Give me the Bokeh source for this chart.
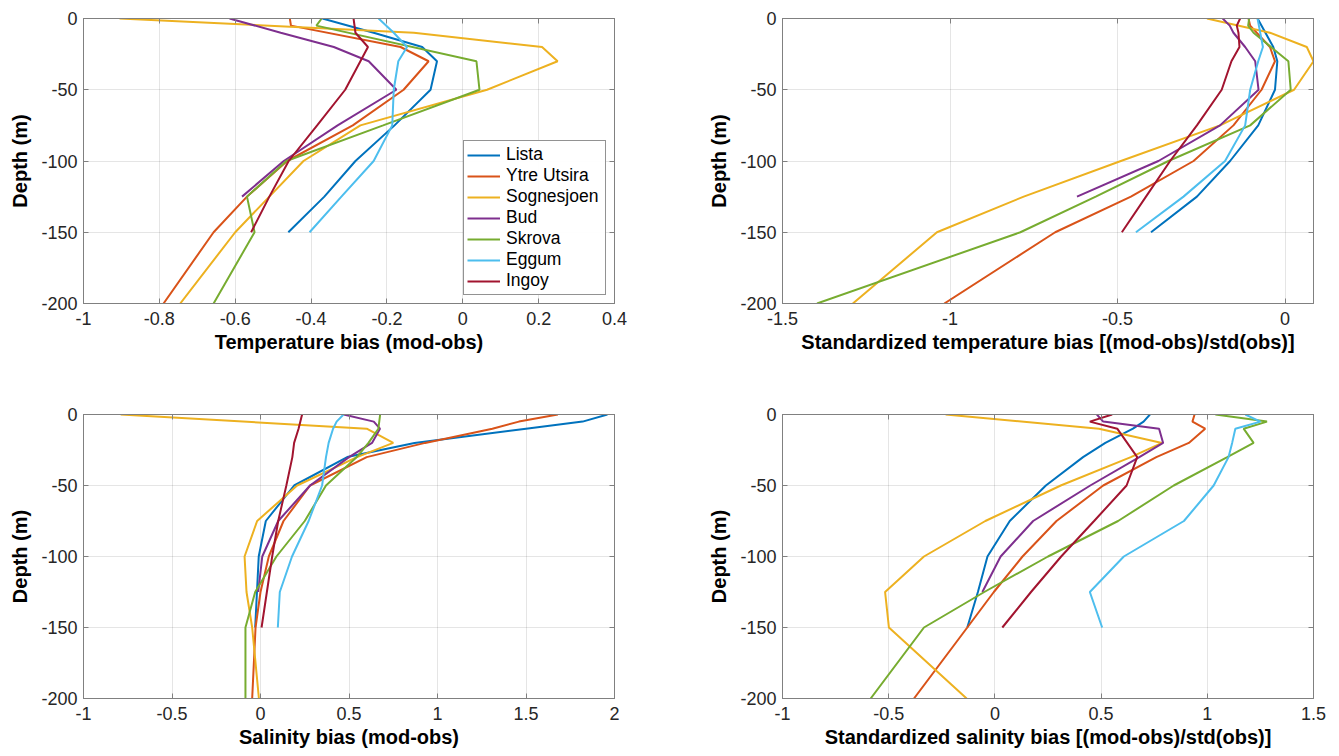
from bokeh.plotting import figure
from bokeh.models import (LinearAxis, FixedTicker, Legend, LegendItem, ColumnDataSource,
                          Range1d, CustomJSTickFormatter)
from bokeh.layouts import column, row
from bokeh.embed import file_html
from bokeh.resources import INLINE

# ---------------- data ----------------
stations = ["Lista", "Ytre Utsira", "Sognesjoen", "Bud", "Skrova", "Eggum", "Ingoy"]
colors = ["#0072BD", "#D95319", "#EDB120", "#7E2F8E", "#77AC30", "#4DBEEE", "#A2142F"]
depth = [0, -5, -10, -20, -30, -50, -75, -100, -125, -150, -200]

# Temperature bias (mod-obs)
lista_t = [-0.37, None, -0.235, -0.107, -0.068, -0.085, -0.18, -0.283, -0.365, -0.46, None]
ytre_t = [-0.456, -0.453, None, -0.164, -0.09, -0.156, -0.29, -0.463, -0.569, -0.657, -0.789]
sogn_t = [-0.905, None, -0.129, 0.209, 0.25, 0.064, -0.27, -0.42, -0.51, -0.60, -0.745]
bud_t = [-0.615, None, -0.48, -0.34, -0.248, -0.175, -0.33, -0.472, -0.582, None, None]
skrova_t = [-0.372, -0.386, None, None, 0.036, 0.044, -0.21, -0.465, -0.569, -0.549, -0.657]
eggum_t = [-0.222, None, -0.182, -0.147, -0.17, -0.182, -0.186, -0.235, -0.32, -0.404, None]
ingoy_t = [-0.288, None, -0.283, -0.25, -0.27, -0.31, -0.384, -0.459, -0.51, -0.558, None]

# Standardized temperature bias
lista_st = [-0.082, None, None, -0.035, -0.023, -0.030, -0.080, -0.164, -0.263, -0.40, None]
ytre_st = [-0.109, -0.104, None, -0.045, -0.03, -0.07, -0.154, -0.273, -0.46, -0.686, -1.017]
sogn_st = [-0.233, None, -0.045, 0.065, 0.085, 0.027, -0.194, -0.49, -0.78, -1.039, -1.29]
bud_st = [-0.186, -0.165, -0.154, -0.119, -0.089, -0.079, -0.194, -0.378, -0.621, None, None]
skrova_st = [-0.107, -0.110, -0.094, None, 0.01, 0.017, -0.104, -0.348, -0.565, -0.79, -1.397]
eggum_st = [-0.082, None, None, -0.066, -0.08, -0.104, -0.119, -0.179, -0.303, -0.445, None]
ingoy_st = [-0.134, -0.144, -0.139, -0.136, -0.16, -0.189, -0.263, -0.343, -0.415, -0.487, None]

# Salinity bias (mod-obs)
lista_s = [1.96, 1.82, 1.50, 0.87, 0.49, 0.19, 0.03, -0.01, -0.02, -0.03, None]
ytre_s = [1.68, 1.46, 1.31, 0.93, 0.60, 0.28, 0.13, 0.047, 0.0, -0.028, -0.047]
sogn_s = [-0.79, None, 0.60, 0.75, 0.545, 0.207, -0.019, -0.09, -0.079, -0.047, -0.009]
bud_s = [0.47, 0.64, 0.675, 0.63, 0.50, 0.28, 0.10, 0.01, -0.013, None, None]
skrova_s = [0.676, None, 0.666, 0.61, 0.544, 0.37, 0.25, 0.09, -0.03, -0.085, -0.085]
eggum_s = [0.469, 0.43, 0.41, 0.385, 0.37, 0.348, 0.272, 0.178, 0.109, 0.098, None]
ingoy_s = [0.235, None, 0.215, 0.19, 0.18, 0.146, 0.10, 0.066, 0.036, 0.006, None]

# Standardized salinity bias
lista_ss = [0.73, 0.70, 0.65, 0.52, 0.415, 0.24, 0.07, -0.035, -0.08, -0.13, None]
ytre_ss = [0.94, 0.93, 0.99, 0.913, 0.76, 0.51, 0.29, 0.13, -0.005, -0.13, -0.381]
sogn_ss = [-0.232, None, 0.49, 0.787, 0.64, 0.31, -0.045, -0.334, -0.517, -0.499, -0.133]
bud_ss = [0.48, 0.51, 0.773, 0.792, 0.68, 0.449, 0.18, 0.027, -0.059, None, None]
skrova_ss = [1.038, 1.281, 1.171, 1.218, 1.094, 0.842, 0.58, 0.25, -0.05, -0.334, -0.585]
eggum_ss = [1.179, 1.25, 1.132, 1.117, 1.10, 1.03, 0.89, 0.607, 0.447, 0.505, None]
ingoy_ss = [0.552, 0.447, 0.576, 0.623, 0.67, 0.62, 0.467, 0.312, 0.17, 0.035, None]

yticks = [-200, -150, -100, -50, 0]
xticks_t = [-1, -0.8, -0.6, -0.4, -0.2, 0, 0.2, 0.4]
xticks_st = [-1.5, -1, -0.5, 0]
xticks_s = [-1, -0.5, 0, 0.5, 1, 1.5, 2]
xticks_ss = [-1, -0.5, 0, 0.5, 1, 1.5]

FONT = "Liberation Sans"
AX = "#808080"
TXT = "#262626"
fmt = CustomJSTickFormatter(code="return String(tick);")


def style_axis(ax, ticks, labels=True, standoff=8):
    ax.ticker = FixedTicker(ticks=ticks)
    ax.formatter = fmt
    ax.major_tick_in = 5
    ax.major_tick_out = 0
    ax.minor_tick_line_color = None
    ax.axis_line_color = AX
    ax.major_tick_line_color = AX
    ax.major_label_text_font = FONT
    if labels:
        ax.major_label_text_color = TXT
        ax.major_label_text_font_size = "18px"
        ax.major_label_standoff = standoff
    else:
        ax.major_label_text_color = None
        ax.major_label_text_font_size = "1px"
        ax.major_label_standoff = 0


def panel(xr, xticks, xlabel, series, left, right, top, bottom, fh, legend=False):
    p = figure(frame_width=531, frame_height=fh, x_range=Range1d(*xr), y_range=Range1d(-200, 0),
               output_backend="svg", toolbar_location=None,
               min_border_left=left, min_border_right=right, min_border_top=top,
               min_border_bottom=bottom)
    p.outline_line_color = AX
    style_axis(p.xaxis[0], xticks, standoff=8)
    style_axis(p.yaxis[0], yticks, standoff=6)
    p.xaxis.axis_label = xlabel
    p.yaxis.axis_label = "Depth (m)"
    for ax in (p.xaxis[0], p.yaxis[0]):
        ax.axis_label_text_font = FONT
        ax.axis_label_text_font_style = "bold"
        ax.axis_label_text_font_size = "20px"
        ax.axis_label_text_color = "#000000"
    p.xaxis[0].axis_label_standoff = 3
    p.yaxis[0].axis_label_standoff = 7
    top_ax = LinearAxis()
    style_axis(top_ax, xticks, labels=False)
    p.add_layout(top_ax, "above")
    right_ax = LinearAxis()
    style_axis(right_ax, yticks, labels=False)
    p.add_layout(right_ax, "right")
    p.xgrid.ticker = FixedTicker(ticks=xticks)
    p.ygrid.ticker = FixedTicker(ticks=yticks)
    for g in (p.xgrid, p.ygrid):
        g.grid_line_color = "#262626"
        g.grid_line_alpha = 0.12
    items = []
    for name, col, vals in zip(stations, colors, series):
        xs = [v for v in vals if v is not None]
        ys = [d for d, v in zip(depth, vals) if v is not None]
        r = p.line(x="x", y="y", source=ColumnDataSource(dict(x=xs, y=ys)),
                   line_color=col, line_width=2)
        items.append(LegendItem(label=name, renderers=[r]))
    if legend:
        lg = Legend(items=items, location="bottom_right")
        lg.label_text_font = FONT
        lg.label_text_font_size = "17.5px"
        lg.label_text_color = "#000000"
        lg.border_line_color = TXT
        lg.border_line_width = 1
        lg.glyph_width = 33
        lg.glyph_height = 18
        lg.label_height = 18
        lg.label_width = 96
        lg.spacing = 0
        lg.padding = 3
        lg.margin = 8
        lg.label_standoff = 6
        p.add_layout(lg)
    return p


p1 = panel((-1, 0.4), xticks_t, "Temperature bias (mod-obs)",
           [lista_t, ytre_t, sogn_t, bud_t, skrova_t, eggum_t, ingoy_t],
           83, 59, 18, 100, 285, legend=True)
p2 = panel((-1.5, 0.085), xticks_st, "Standardized temperature bias [(mod-obs)/std(obs)]",
           [lista_st, ytre_st, sogn_st, bud_st, skrova_st, eggum_st, ingoy_st],
           109, 15, 18, 100, 285)
p3 = panel((-1, 2), xticks_s, "Salinity bias (mod-obs)",
           [lista_s, ytre_s, sogn_s, bud_s, skrova_s, eggum_s, ingoy_s],
           83, 59, 11, 48, 284)
p4 = panel((-1, 1.5), xticks_ss, "Standardized salinity bias [(mod-obs)/std(obs)]",
           [lista_ss, ytre_ss, sogn_ss, bud_ss, skrova_ss, eggum_ss, ingoy_ss],
           109, 15, 11, 48, 284)

layout = column(row(p1, p2), row(p3, p4))
open("out.html", "w").write(file_html(layout, INLINE))
